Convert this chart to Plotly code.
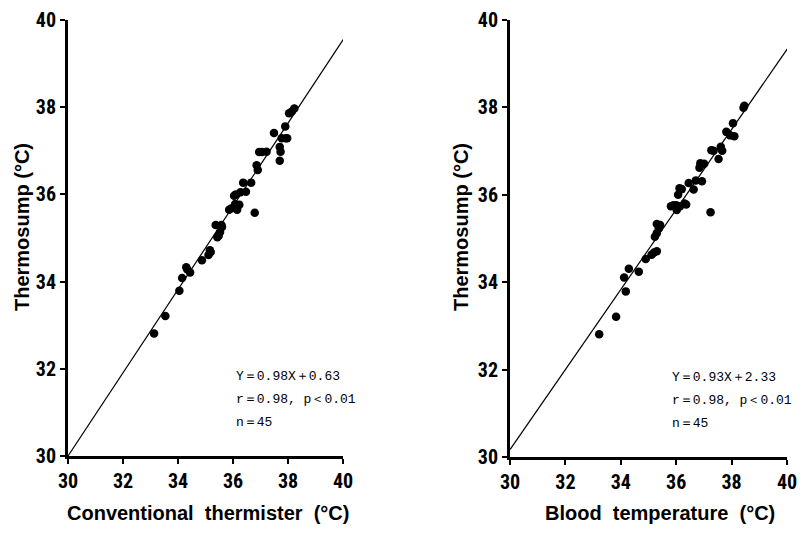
import plotly.graph_objects as go

# ---- data ----
conv_x = [33.13, 33.54, 34.05, 34.15, 34.30, 34.34, 34.44, 34.87, 35.11, 35.19,
          35.16, 35.37, 35.43, 35.53, 35.60, 35.48, 35.58, 35.86, 35.95, 36.04,
          36.08, 36.15, 36.23, 36.10, 36.27, 36.37, 36.47, 36.66, 36.79, 36.86,
          36.90, 36.95, 37.05, 37.22, 37.49, 37.70, 37.73, 37.70, 37.77, 37.90,
          37.97, 38.04, 38.14, 38.23, 37.92]
conv_y = [32.81, 33.21, 33.79, 34.08, 34.33, 34.28, 34.21, 34.49, 34.61, 34.68,
          34.72, 35.30, 35.02, 35.14, 35.25, 35.05, 35.30, 35.65, 35.68, 35.97,
          35.78, 35.65, 35.76, 36.00, 36.05, 36.27, 36.06, 36.27, 35.58, 36.67,
          36.56, 36.97, 36.97, 36.98, 37.41, 37.09, 36.98, 36.77, 37.29, 37.56,
          37.29, 37.86, 37.90, 37.97, 37.29]

blood_x = [33.22, 33.83, 34.18, 34.12, 34.29, 34.65, 34.90, 35.11, 35.30, 35.20,
           35.23, 35.30, 35.37, 35.30, 35.42, 35.81, 35.90, 36.00, 36.14, 36.36,
           36.07, 36.20, 36.12, 36.45, 36.63, 36.71, 36.93, 36.84, 37.01, 36.87,
           37.24, 37.27, 37.53, 37.61, 37.66, 37.35, 37.81, 37.95, 38.10, 38.05,
           38.43, 38.46, 36.30, 36.02, 36.95]
blood_y = [32.81, 33.21, 33.79, 34.11, 34.31, 34.24, 34.53, 34.63, 34.71, 34.68,
           35.04, 35.12, 35.23, 35.33, 35.31, 35.74, 35.76, 35.76, 35.74, 35.78,
           36.00, 36.13, 36.15, 36.27, 36.12, 36.33, 36.31, 36.62, 36.71, 36.72,
           35.60, 37.02, 36.82, 37.10, 37.01, 37.01, 37.44, 37.36, 37.34, 37.64,
           37.99, 38.04, 35.80, 35.65, 36.70]

# regression lines as drawn
line_left_x = [30.0, 40.1]
line_left_y = [30.0, 39.64]
line_right_x = [30.0, 40.08]
line_right_y = [30.17, 39.40]

tick_vals = [30, 32, 34, 36, 38, 40]
tick_text = ["30", "32", "34", "36", "38", "40"]

y_title = "Thermosump (°C)"
x_titles = ["Conventional  thermister  (°C)", "Blood  temperature  (°C)"]
stats_left = ["Y＝0.98X＋0.63", "r＝0.98, p＜0.01", "n＝45"]
stats_right = ["Y＝0.93X＋2.33", "r＝0.98, p＜0.01", "n＝45"]
stats_y = [31.83, 31.30, 30.77]          # data-space rows of the statistics text
stats_x = [36.05, 35.76]                 # data-space left edge (left, right panel)

OFF = 8                      # body margin of the html page
W, H = 807 - 2 * OFF, 540 - 2 * OFF  # figure fits the window without scrollbars


def px_x(p):
    return (p - OFF) / W


def px_y(p):
    return (H - (p - OFF)) / H


TICKFONT = dict(family="Liberation Sans Narrow, Roboto Condensed, Arial Narrow, sans-serif",
                size=20, color="black", weight="bold")
TITLEFONT = dict(family="Liberation Sans, Arial, sans-serif", size=20, color="black", weight="bold")
STATFONT = dict(family="Liberation Mono, DejaVu Sans Mono, monospace", size=13, color="black")

fig = go.Figure()

panels = [
    dict(xa="x", ya="y", px=conv_x, py=conv_y, lx=line_left_x, ly=line_left_y,
         dom=[px_x(68), px_x(343)], ydom=[px_y(456), px_y(20)]),
    dict(xa="x2", ya="y2", px=blood_x, py=blood_y, lx=line_right_x, ly=line_right_y,
         dom=[px_x(510), px_x(787)], ydom=[px_y(457), px_y(20)]),
]

for p in panels:
    fig.add_trace(go.Scatter(x=p["lx"], y=p["ly"], mode="lines", xaxis=p["xa"], yaxis=p["ya"],
                             line=dict(color="black", width=1.2), showlegend=False, hoverinfo="skip",
                             cliponaxis=False))
    fig.add_trace(go.Scatter(x=p["px"], y=p["py"], mode="markers", xaxis=p["xa"], yaxis=p["ya"],
                             marker=dict(color="black", size=8.5), showlegend=False))

axis_common = dict(range=[30, 40], tickvals=tick_vals, ticktext=tick_text, showgrid=False,
                   zeroline=False, showline=True, linecolor="black", linewidth=3,
                   ticks="outside", ticklen=5, tickwidth=1.5, tickcolor="black",
                   tickfont=TICKFONT, fixedrange=True, automargin=False,
                   ticklabeloverflow="allow")

fig.update_layout(
    width=W, height=H,
    margin=dict(l=0, r=0, t=0, b=0, autoexpand=False),
    paper_bgcolor="white", plot_bgcolor="white",
    xaxis=dict(domain=panels[0]["dom"], anchor="y", **axis_common),
    yaxis=dict(domain=panels[0]["ydom"], anchor="x", **axis_common),
    xaxis2=dict(domain=panels[1]["dom"], anchor="y2", **axis_common),
    yaxis2=dict(domain=panels[1]["ydom"], anchor="x2", **axis_common),
)

ann = []
# y axis titles
for xc in [22, 461]:
    ann.append(dict(x=px_x(xc), y=px_y(227), xref="paper", yref="paper", text=y_title,
                    textangle=-90, showarrow=False, font=TITLEFONT, xanchor="center", yanchor="middle"))
# x axis titles
for xc, t in zip([208, 660], x_titles):
    ann.append(dict(x=px_x(xc), y=px_y(513), xref="paper", yref="paper", text=t,
                    showarrow=False, font=TITLEFONT, xanchor="center", yanchor="middle"))
# statistics text, placed in data coordinates
for (xr, yr), x0, lines in [(("x", "y"), stats_x[0], stats_left), (("x2", "y2"), stats_x[1], stats_right)]:
    for yv, t in zip(stats_y, lines):
        ann.append(dict(x=x0, y=yv, xref=xr, yref=yr, text=t, showarrow=False, font=STATFONT,
                        xanchor="left", yanchor="middle"))
fig.update_layout(annotations=ann)

fig.write_html("out.html")
